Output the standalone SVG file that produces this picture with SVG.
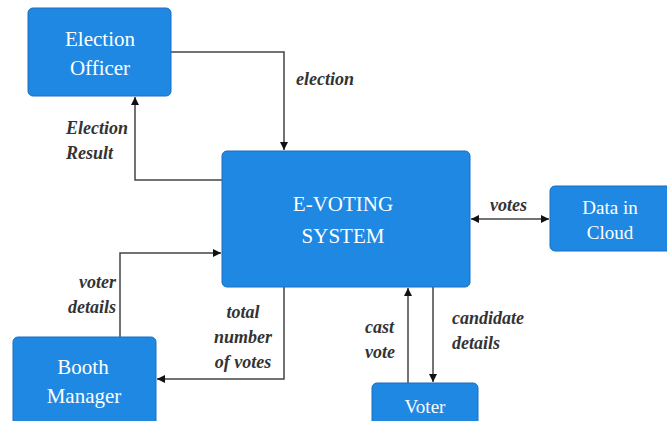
<svg xmlns="http://www.w3.org/2000/svg" width="667" height="421" viewBox="0 0 667 421">
<style>
.box{fill:#1e88e3;stroke:#1a6fc0;stroke-width:1}
.nt{font-family:'Liberation Serif',serif;font-size:21px;fill:#ffffff;text-anchor:middle}
.lbl{font-family:'Liberation Serif',serif;font-size:18px;font-style:italic;font-weight:bold;fill:#333333}
.ln{fill:none;stroke:#444444;stroke-width:1.5}
</style>
<defs>
<marker id="ah" viewBox="0 0 10 10" refX="10" refY="5" markerWidth="8" markerHeight="8" markerUnits="userSpaceOnUse" orient="auto-start-reverse">
<path d="M0,0 L10,5 L0,10 z" fill="#111111"/>
</marker>
</defs>
<rect width="667" height="421" fill="#ffffff"/>
<g id="connectors">
<path class="ln" d="M171,52 H284 V150" marker-end="url(#ah)"/>
<path class="ln" d="M222,180 H135 V97" marker-end="url(#ah)"/>
<path class="ln" d="M471,219 H549" marker-start="url(#ah)" marker-end="url(#ah)"/>
<path class="ln" d="M120,337 V253 H221" marker-end="url(#ah)"/>
<path class="ln" d="M284,287 V379 H157" marker-end="url(#ah)"/>
<path class="ln" d="M408,383 V288" marker-end="url(#ah)"/>
<path class="ln" d="M433,287 V382" marker-end="url(#ah)"/>
</g>
<g id="labels">
<text class="lbl" font-family="Liberation Serif" x="296" y="85">election</text>
<text class="lbl" font-family="Liberation Serif" x="66" y="134">Election</text>
<text class="lbl" font-family="Liberation Serif" x="66" y="159">Result</text>
<text class="lbl" font-family="Liberation Serif" x="490" y="211">votes</text>
<text class="lbl" font-family="Liberation Serif" x="116" y="288" text-anchor="end">voter</text>
<text class="lbl" font-family="Liberation Serif" x="116" y="313" text-anchor="end">details</text>
<text class="lbl" font-family="Liberation Serif" x="243" y="318" text-anchor="middle">total</text>
<text class="lbl" font-family="Liberation Serif" x="243" y="343" text-anchor="middle">number</text>
<text class="lbl" font-family="Liberation Serif" x="243" y="368" text-anchor="middle">of votes</text>
<text class="lbl" font-family="Liberation Serif" x="365" y="333">cast</text>
<text class="lbl" font-family="Liberation Serif" x="365" y="358">vote</text>
<text class="lbl" font-family="Liberation Serif" x="452" y="324">candidate</text>
<text class="lbl" font-family="Liberation Serif" x="452" y="349">details</text>
</g>
<g id="election-officer">
<rect class="box" x="28" y="8" width="143" height="88" rx="5"/>
<text class="nt" font-family="Liberation Serif" x="100" y="46">Election</text>
<text class="nt" font-family="Liberation Serif" x="100" y="75">Officer</text>
</g>
<g id="e-voting-system">
<rect class="box" x="222" y="151" width="248" height="136" rx="5"/>
<text class="nt" font-family="Liberation Serif" x="343" y="211">E-VOTING</text>
<text class="nt" font-family="Liberation Serif" x="343" y="243">SYSTEM</text>
</g>
<g id="data-in-cloud">
<rect class="box" x="550" y="186" width="130" height="65" rx="5"/>
<text class="nt" font-family="Liberation Serif" x="610" y="214" style="font-size:19px">Data in</text>
<text class="nt" font-family="Liberation Serif" x="610" y="239" style="font-size:19px">Cloud</text>
</g>
<g id="booth-manager">
<rect class="box" x="13" y="337" width="143" height="100" rx="5"/>
<text class="nt" font-family="Liberation Serif" x="83" y="374">Booth</text>
<text class="nt" font-family="Liberation Serif" x="84" y="403">Manager</text>
</g>
<g id="voter">
<rect class="box" x="372" y="383" width="106" height="50" rx="5"/>
<text class="nt" font-family="Liberation Serif" x="425" y="413" style="font-size:19px">Voter</text>
</g>
</svg>
